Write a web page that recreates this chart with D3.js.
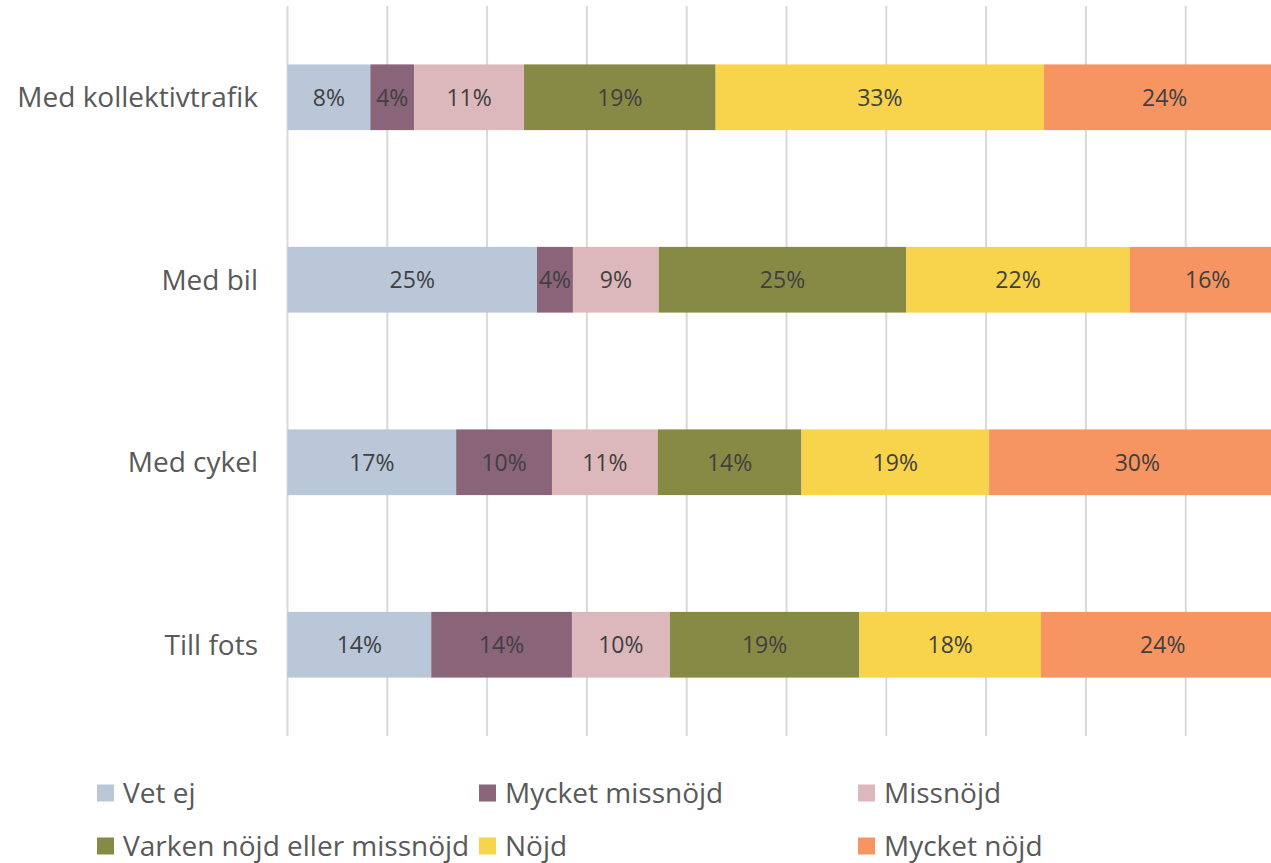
<!DOCTYPE html>
<html>
<head>
<meta charset="utf-8">
<script src="https://cdn.jsdelivr.net/npm/d3@7"></script>
<style>
  body { margin: 0; background: #fff; }
  svg { display: block; font-family: "Open Sans", Lato, sans-serif; }
</style>
</head>
<body>
<div id="chart-wrapper"></div>
<script>
// categories (top to bottom) and response levels
var categories = ["Med kollektivtrafik", "Med bil", "Med cykel", "Till fots"];
var levels = ["Vet ej", "Mycket missnöjd", "Missnöjd", "Varken nöjd eller missnöjd", "Nöjd", "Mycket nöjd"];
var colors = ["#B9C7D9", "#8A6478", "#DCB8BC", "#878A44", "#F7D44B", "#F79562"];

// share in percent per category, one array per level
var vetEj          = [8.3, 25.0, 16.9, 14.4];
var mycketMissnojd = [4.4, 3.6, 9.6, 14.1];
var missnojd       = [11.0, 8.6, 10.6, 9.8];
var varken         = [19.2, 24.8, 14.4, 19.0];
var nojd           = [32.9, 22.4, 18.8, 18.2];
var mycketNojd     = [24.2, 15.6, 29.7, 24.4];

var series = [vetEj, mycketMissnojd, missnojd, varken, nojd, mycketNojd];
var ticks = [0, 10, 20, 30, 40, 50, 60, 70, 80, 90, 100];

var W = 1271, H = 863;
var margin = {top: 6, left: 287.5, bottom: 127};
var plotRight = 1285.5; // 100% sits just outside the picture

var svg = d3.select("#chart-wrapper")
  .append("svg")
    .attr("width", W)
    .attr("height", H);

var x = d3.scaleLinear()
  .domain([0, 100])
  .range([margin.left, plotRight]);

var y = d3.scaleBand()
  .domain(categories)
  .range([margin.top, H - margin.bottom])
  .paddingInner(0.64)
  .paddingOuter(0.32);

// vertical gridlines
svg.append("g")
  .selectAll("line")
  .data(ticks)
  .enter()
  .append("line")
    .attr("x1", d => x(d))
    .attr("x2", d => x(d))
    .attr("y1", margin.top)
    .attr("y2", H - margin.bottom)
    .attr("stroke", "#D9D9D9")
    .attr("stroke-width", 2);

// stack the data
var rows = categories.map((c, i) => {
  var r = {cat: c};
  levels.forEach((l, j) => r[l] = series[j][i]);
  return r;
});
var stacked = d3.stack().keys(levels)(rows);

var groups = svg.append("g")
  .selectAll("g")
  .data(stacked)
  .enter()
  .append("g")
    .attr("fill", (d, i) => colors[i]);

groups.selectAll("rect")
  .data(d => d)
  .enter()
  .append("rect")
    .attr("x", d => x(d[0]))
    .attr("width", d => x(d[1]) - x(d[0]))
    .attr("y", d => y(d.data.cat))
    .attr("height", y.bandwidth());

groups.selectAll("text")
  .data(d => d)
  .enter()
  .append("text")
    .attr("x", d => (x(d[0]) + x(d[1])) / 2)
    .attr("y", d => y(d.data.cat) + y.bandwidth() / 2)
    .attr("dy", "0.36em")
    .attr("text-anchor", "middle")
    .attr("font-size", 23)
    .attr("fill", "#404040")
    .text(d => Math.round(d[1] - d[0]) + "%");

// category labels
svg.append("g")
  .selectAll("text")
  .data(categories)
  .enter()
  .append("text")
    .attr("x", 258)
    .attr("y", d => y(d) + y.bandwidth() / 2)
    .attr("dy", "0.36em")
    .attr("text-anchor", "end")
    .attr("font-size", 28)
    .attr("fill", "#595959")
    .text(d => d);

// legend
var legendX = [97, 479, 858];
var legendY = [793, 846];
var legend = svg.append("g")
  .selectAll("g")
  .data(levels)
  .enter()
  .append("g")
    .attr("transform", (d, i) => `translate(${legendX[i % 3]},${legendY[Math.floor(i / 3)]})`);

legend.append("rect")
  .attr("x", 0)
  .attr("y", -8.5)
  .attr("width", 17)
  .attr("height", 17)
  .attr("fill", (d, i) => colors[i]);

legend.append("text")
  .attr("x", 26)
  .attr("dy", "0.36em")
  .attr("font-size", 28)
  .attr("fill", "#595959")
  .text(d => d);
</script>
</body>
</html>
